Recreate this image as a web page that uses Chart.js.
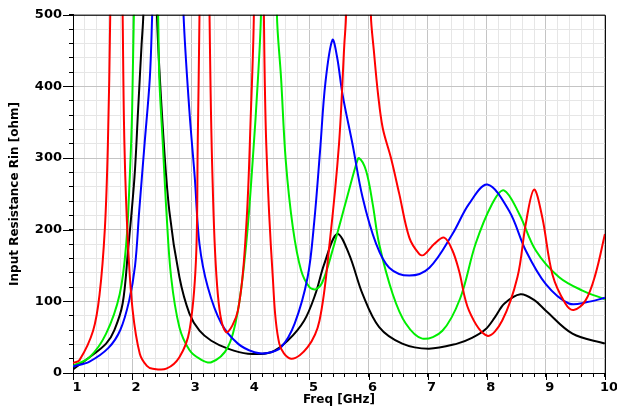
<!DOCTYPE html>
<html>
<head>
<meta charset="utf-8">
<script src="https://cdn.jsdelivr.net/npm/chart.js@4"></script>
<style>
  body { margin: 0; background: #fff; }
  canvas { display: block; }
</style>
</head>
<body>
<canvas id="graficoRin" width="617" height="413"></canvas>
<script>
// tick labels
const freqTicks = [1, 2, 3, 4, 5, 6, 7, 8, 9, 10];
const rinTicks = [0, 100, 200, 300, 400, 500];

// series (values above 500 are the clipped resonance tops)
const freqBlack = [1, 1.28, 1.56, 1.7, 1.84, 1.93, 2.04, 2.1, 2.16, 2.19, 2.3, 2.42, 2.52, 2.63, 2.8, 2.97, 3.14, 3.34, 3.62, 3.96, 4.35, 4.63, 4.91, 5.1, 5.25, 5.47, 5.67, 5.9, 6.18, 6.57, 7.02, 7.5, 7.75, 7.98, 8.14, 8.3, 8.57, 8.8, 9.0, 9.45, 10];
const rinBlack = [5, 22, 41, 60, 97, 170, 273, 365, 458, 500, 900, 500, 342, 226, 134, 83, 59, 45, 34, 27, 29, 45, 73, 110, 152, 194, 166, 110, 64, 41, 34, 41, 49, 61, 78, 97, 110, 102, 87, 55, 41];

const freqBlue = [1, 1.28, 1.6, 1.8, 1.95, 2.05, 2.12, 2.21, 2.3, 2.34, 2.6, 2.87, 2.97, 3.06, 3.14, 3.28, 3.51, 3.79, 4.07, 4.29, 4.52, 4.75, 4.97, 5.08, 5.18, 5.27, 5.39, 5.47, 5.56, 5.73, 5.9, 6.13, 6.35, 6.69, 7.03, 7.42, 7.7, 8.01, 8.38, 8.66, 9.0, 9.39, 9.7, 10];
const rinBlue = [9, 16, 35, 60, 101, 150, 226, 319, 412, 500, 1100, 500, 365, 273, 180, 120, 69, 41, 29, 28, 36, 69, 134, 210, 310, 405, 465, 440, 389, 319, 245, 180, 147, 136, 147, 194, 236, 263, 226, 171, 124, 97, 99, 105];

const freqGreen = [1, 1.28, 1.56, 1.79, 1.9, 1.96, 2.0, 2.03, 2.24, 2.44, 2.46, 2.52, 2.58, 2.66, 2.8, 2.97, 3.14, 3.34, 3.62, 3.79, 3.93, 4.04, 4.13, 4.18, 4.32, 4.45, 4.52, 4.6, 4.72, 4.86, 5.0, 5.11, 5.22, 5.39, 5.62, 5.79, 5.84, 5.96, 6.07, 6.18, 6.41, 6.63, 6.91, 7.25, 7.55, 7.81, 8.09, 8.29, 8.55, 8.83, 9.22, 9.62, 10];
const rinGreen = [10, 22, 55, 110, 180, 273, 365, 500, 1100, 500, 412, 319, 226, 134, 64, 32, 20, 15, 36, 87, 180, 296, 412, 500, 1100, 500, 412, 296, 203, 143, 120, 117, 127, 171, 240, 291, 300, 282, 236, 180, 110, 69, 48, 59, 104, 180, 236, 255, 222, 171, 134, 115, 103];

const freqRed = [1, 1.11, 1.34, 1.45, 1.54, 1.59, 1.63, 1.73, 1.84, 1.87, 1.93, 2.01, 2.13, 2.25, 2.35, 2.58, 2.8, 2.97, 3.08, 3.11, 3.14, 3.22, 3.31, 3.36, 3.45, 3.59, 3.79, 3.93, 4.01, 4.06, 4.15, 4.23, 4.27, 4.38, 4.49, 4.69, 4.97, 5.17, 5.34, 5.5, 5.59, 5.62, 5.83, 6.04, 6.09, 6.16, 6.24, 6.38, 6.52, 6.69, 6.86, 6.94, 7.11, 7.28, 7.42, 7.53, 7.7, 8.01, 8.26, 8.52, 8.66, 8.8, 8.94, 9.11, 9.33, 9.47, 9.67, 9.84, 10];
const rinRed = [14, 18, 59, 110, 203, 319, 500, 1200, 500, 319, 180, 87, 27, 10, 6, 6, 22, 59, 157, 319, 500, 1200, 500, 273, 110, 57, 87, 203, 365, 500, 1200, 500, 319, 134, 41, 20, 36, 73, 180, 319, 458, 500, 1500, 500, 450, 390, 342, 300, 250, 189, 166, 165, 180, 189, 171, 143, 87, 52, 73, 134, 208, 256, 217, 138, 97, 88, 101, 138, 194];

function pontos(xs, ys) {
    return xs.map((x, i) => ({ x: x, y: ys[i] }));
}

function serie(xs, ys, cor) {
    return {
        data: pontos(xs, ys),
        borderColor: cor,
        borderWidth: 2,
        pointRadius: 0,
        fill: false,
        tension: 0.35
    };
}

function ehMajor(v, lista) {
    return lista.some(t => Math.abs(t - v) < 1e-6);
}

// frame on top/right and the longer major ticks
const moldura = {
    id: 'moldura',
    afterDraw(chart) {
        const ctx = chart.ctx;
        const a = chart.chartArea;
        const sx = chart.scales.x;
        const sy = chart.scales.y;
        ctx.save();
        ctx.strokeStyle = '#000';
        ctx.lineWidth = 1;
        ctx.beginPath();
        ctx.moveTo(a.left, a.top + 0.5);
        ctx.lineTo(a.right + 0.5, a.top + 0.5);
        ctx.lineTo(a.right + 0.5, a.bottom);
        freqTicks.forEach(t => {
            const px = Math.round(sx.getPixelForValue(t)) + 0.5;
            ctx.moveTo(px, a.bottom);
            ctx.lineTo(px, a.bottom + 7);
        });
        rinTicks.forEach(t => {
            const py = Math.round(sy.getPixelForValue(t)) + 0.5;
            ctx.moveTo(a.left - 10, py);
            ctx.lineTo(a.left, py);
        });
        ctx.stroke();
        ctx.restore();
    }
};

const fonteTicks = { family: 'DejaVu Sans', size: 13, weight: 'bold' };
const fonteTitulo = { family: 'DejaVu Sans', size: 12, weight: 'bold' };

new Chart(document.getElementById('graficoRin').getContext('2d'), {
    type: 'line',
    data: {
        datasets: [
            serie(freqRed, rinRed, '#ff0000'),
            serie(freqBlue, rinBlue, '#0000ff'),
            serie(freqGreen, rinGreen, '#00ee00'),
            serie(freqBlack, rinBlack, '#000000')
        ]
    },
    options: {
        responsive: false,
        animation: false,
        elements: { line: { capBezierPoints: false } },
        layout: { padding: { left: 0, top: 13, right: 11, bottom: 0 } },
        plugins: { legend: { display: false }, tooltip: { enabled: false } },
        scales: {
            x: {
                type: 'linear',
                min: 1,
                max: 10,
                afterFit: s => { s.height = 40; },
                ticks: {
                    stepSize: 0.2,
                    autoSkip: false,
                    maxRotation: 0,
                    padding: 3,
                    labelOffset: 4,
                    color: '#000',
                    font: fonteTicks,
                    callback: v => ehMajor(v, freqTicks) ? String(Math.round(v)) : ''
                },
                grid: {
                    color: c => ehMajor(c.tick.value, freqTicks) ? '#c4c4c4' : '#e6e6e6',
                    tickColor: '#000',
                    tickLength: 4
                },
                border: { color: '#000', width: 1 },
                title: { display: true, text: 'Freq [GHz]', color: '#000', font: fonteTitulo, padding: { top: 0, bottom: 6 } }
            },
            y: {
                min: 0,
                max: 500,
                afterFit: s => { s.width = 73; },
                ticks: {
                    stepSize: 20,
                    autoSkip: false,
                    padding: 7,
                    color: '#000',
                    font: fonteTicks,
                    callback: v => ehMajor(v, rinTicks) ? String(v) : ''
                },
                grid: {
                    color: c => ehMajor(c.tick.value, rinTicks) ? '#c4c4c4' : '#e6e6e6',
                    tickColor: '#000',
                    tickLength: 4
                },
                border: { color: '#000', width: 1 },
                title: { display: true, text: 'Input Resistance Rin [ohm]', color: '#000', font: fonteTitulo, padding: { top: 8, bottom: 0 } }
            }
        }
    },
    plugins: [moldura]
});
</script>
</body>
</html>
